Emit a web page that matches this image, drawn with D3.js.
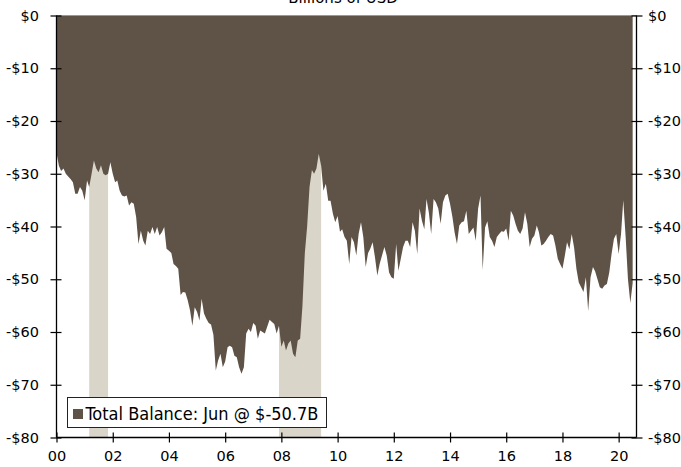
<!DOCTYPE html>
<html><head><meta charset="utf-8">
<script src="https://cdn.jsdelivr.net/npm/d3@7"></script>
<style>
html,body{margin:0;padding:0;background:#fff;overflow:hidden}
svg{display:block}
text{font-family:"DejaVu Sans",Verdana,sans-serif;fill:#000}
</style></head><body>
<script>
const startYear = 2000;
const balance = [
-26,-28.5,-29.5,-29,-30,-30.5,-31,-31.6,-33.8,-33.8,-32.5,-33.2,
-35,-31.3,-32.5,-30,-27.5,-29,-29.7,-28.4,-30,-30.3,-30,-27.8,
-30,-31.6,-31.3,-33.2,-34.1,-34.3,-34.1,-36,-35.4,-35.7,-38.2,-43.3,
-40.8,-42.7,-43.6,-40.8,-41.4,-40.1,-41.4,-40.1,-41.7,-41.1,-40.1,-44.2,
-44.6,-45,-47.1,-47.5,-48,-53,-52.4,-52.5,-54,-55.9,-58.8,-55.3,
-56.2,-57.8,-53.7,-56.5,-57.5,-58.3,-58.6,-60.5,-67.3,-65.4,-64.1,-66.7,
-65.6,-62.9,-62.6,-62.9,-64.5,-64.8,-66.7,-67.9,-66.7,-60.3,-59.4,-60,
-58.3,-58.8,-61.3,-59.7,-60,-60.3,-59,-57.7,-58.1,-58.5,-60.3,-58.8,
-62.8,-61.6,-63.5,-62.2,-61.6,-64.1,-64.8,-61.6,-61.3,-55,-45,-40,
-32.5,-29.3,-30,-29,-26.2,-28.5,-33.2,-31.9,-35.1,-35.1,-37.6,-39.2,
-38,-41,-40.5,-42,-42.7,-47.1,-42,-43,-45.5,-41.4,-39.2,-42,
-47.7,-45,-44.2,-43,-45.8,-49.3,-47.1,-45.5,-43.9,-45.5,-48.7,-49.6,
-49.9,-43.3,-48.4,-46.1,-43.9,-42.7,-42.7,-43.9,-39.2,-40.8,-45.2,-36.6,
-38.9,-40.5,-34.8,-37.4,-41.4,-34.8,-35.4,-36.6,-39.5,-35.4,-34.1,-33.8,
-35.7,-38.2,-41.1,-43.3,-39.8,-39.2,-39,-37,-41.4,-40.8,-40.2,-42.7,
-36.6,-34.1,-48.3,-40.2,-39,-42,-42.7,-43.9,-42,-41.4,-40.9,-41,
-40.4,-42.7,-37,-37.9,-39.5,-40.8,-41.4,-40.4,-37.3,-39.5,-43.9,-42.3,
-41.7,-39.8,-41.1,-43.6,-43.3,-42.7,-42,-41.4,-41.7,-43.6,-46.1,-47.1,
-48,-45.5,-43,-44.3,-41.4,-44,-48,-50.6,-51.5,-52.4,-49.6,-56,
-49.6,-47.7,-48.5,-50,-51.5,-51.8,-51.2,-50.9,-48.7,-45.2,-42.3,-41.4,
-45.2,-41.4,-35,-42,-50,-54.5,-50.7
];
const recessions = [["2001-03-01","2001-11-01"],["2007-12-01","2009-06-01"]];
const yTicks = [0,-10,-20,-30,-40,-50,-60,-70,-80];
const xTickYears = [2000,2002,2004,2006,2008,2010,2012,2014,2016,2018,2020];
const titleText = "Billions of USD";
const legendText = "Total Balance: Jun @ $-50.7B";

const W = 681, H = 467;
const mLeft = 56.5, mRight = 636.5, mTop = 15.5, mBottom = 437.5;
const brown = "#5e5346", recColor = "#d9d5c9";

const data = balance.map((v,i)=>({date:new Date(startYear, i, 1), v}));
const svg = d3.select("body").append("svg").attr("width",W).attr("height",H);

const x = d3.scaleTime().domain([new Date(2000,0,1), new Date(2020,7,20)]).range([mLeft,mRight]);
const y = d3.scaleLinear().domain([-80,0]).range([mBottom,mTop]);

// recessions
svg.append("g").selectAll("rect").data(recessions).join("rect")
  .attr("x", d=>x(new Date(d[0])))
  .attr("width", d=>x(new Date(d[1]))-x(new Date(d[0])))
  .attr("y", mTop).attr("height", mBottom-mTop)
  .attr("fill", recColor);

// area
svg.append("path").datum(data)
  .attr("fill", brown)
  .attr("d", d3.area().x(d=>x(d.date)).y0(y(0)).y1(d=>y(d.v)));

// top zero line
svg.append("line").attr("x1",mLeft).attr("x2",mRight).attr("y1",y(0)).attr("y2",y(0))
  .attr("stroke","#999").attr("stroke-width",1);

const fmt = v => v===0 ? "$0" : "-$" + Math.abs(v);

// left axis
const la = svg.append("g").attr("transform",`translate(${mLeft},0)`)
  .call(d3.axisLeft(y).tickValues(yTicks).tickFormat(fmt).tickSize(6).tickPadding(11.5));
la.selectAll(".tick line").attr("x2",-6).attr("x1",5);
// right axis
const ra = svg.append("g").attr("transform",`translate(${mRight},0)`)
  .call(d3.axisRight(y).tickValues(yTicks).tickFormat(fmt).tickSize(6).tickPadding(5.5));
ra.selectAll(".tick line").attr("x2",6).attr("x1",-5);
// bottom axis
const ba = svg.append("g").attr("transform",`translate(0,${mBottom})`)
  .call(d3.axisBottom(x).tickValues(xTickYears.map(yr=>new Date(yr,0,1)))
    .tickFormat(d=>d3.timeFormat("%y")(d)).tickSize(5).tickPadding(8));
ba.selectAll(".tick line").attr("y1",-5).attr("y2",5);

[la,ra,ba].forEach(g=>{
  g.select(".domain").attr("stroke","#000").attr("stroke-width",1.3);
  g.selectAll(".tick line").attr("stroke","#000").attr("stroke-width",1.2);
  g.selectAll("text").attr("font-size",14.5).attr("font-family","'DejaVu Sans',Verdana,sans-serif").attr("fill","#000");
});
la.select(".domain").attr("d",`M0,${mTop}V${mBottom}`);
ra.select(".domain").attr("d",`M0,${mTop}V${mBottom}`);
ba.select(".domain").attr("d",`M${mLeft},0H${mRight}`);

// title
svg.append("text").attr("x",343).attr("y",2.5).attr("text-anchor","middle")
  .attr("font-family","'Liberation Sans',Arial,sans-serif")
  .attr("font-size",15).text(titleText);

// legend
const lg = svg.append("g");
lg.append("rect").attr("x",67.5).attr("y",397.5).attr("width",259).attr("height",30)
  .attr("fill","#fff").attr("stroke","#222").attr("stroke-width",1);
lg.append("rect").attr("x",73).attr("y",409).attr("width",10).attr("height",10).attr("fill",brown);
lg.append("text").attr("x",85.5).attr("y",420.3)
  .attr("font-family","'DejaVu Sans Condensed','DejaVu Sans',sans-serif")
  .style("font-stretch","condensed")
  .attr("font-size",18).text(legendText);
</script>
</body></html>
